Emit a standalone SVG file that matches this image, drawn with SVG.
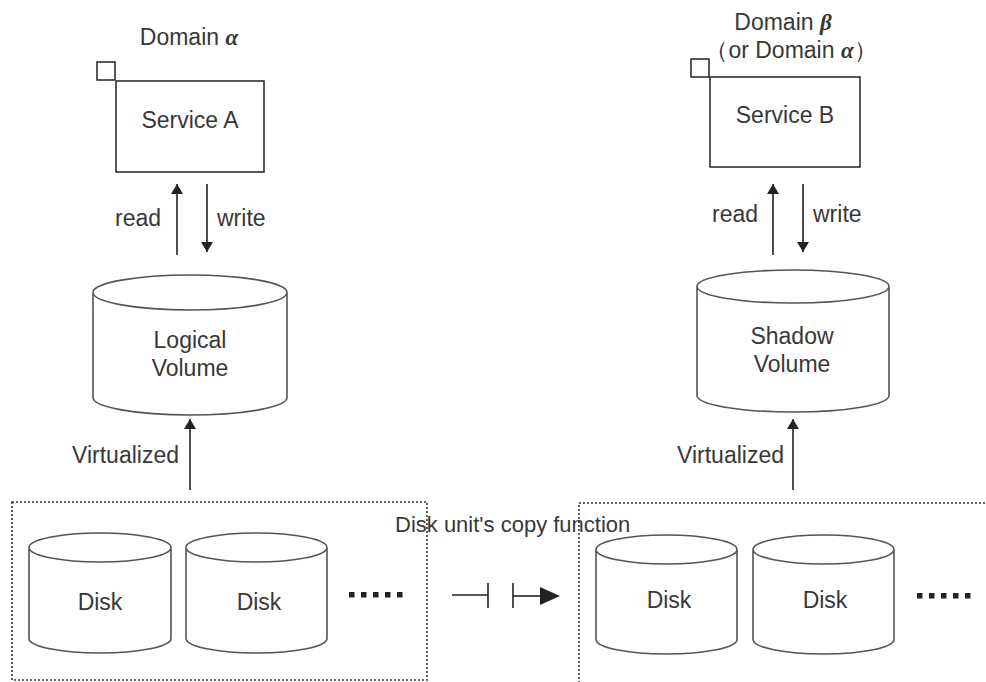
<svg xmlns="http://www.w3.org/2000/svg" width="986" height="682" viewBox="0 0 986 682">
<style>
text{font-family:"Liberation Sans",Arial,sans-serif;font-size:23px;fill:#383838}
.c{text-anchor:middle}
.box{fill:#fff;stroke:#222;stroke-width:1.5}
.cyl{fill:#fff;stroke:#555;stroke-width:1.6}
.ln{stroke:#222;stroke-width:1.6;fill:none}
.dot{fill:none;stroke:#333;stroke-width:1.6;stroke-dasharray:2 2}
.g{font-family:"Liberation Serif","DejaVu Serif",serif;font-style:italic;font-weight:bold}
</style>
<defs>
<marker id="ah" viewBox="0 0 10 12" refX="10" refY="6" markerWidth="10" markerHeight="12" markerUnits="userSpaceOnUse" orient="auto">
<path d="M0,0 L10,6 L0,12 z" fill="#222"/>
</marker>
</defs>

<g id="domainA">
<text class="c" x="189" y="45">Domain <tspan class="g">α</tspan></text>
</g>
<g id="serviceA">
<rect class="box" x="97" y="62" width="18" height="18"/>
<rect class="box" x="116" y="81" width="148" height="91"/>
<text class="c" x="190" y="128">Service A</text>
</g>

<g id="domainB">
<text class="c" x="783" y="30">Domain <tspan class="g">β</tspan></text>
<text class="c" x="791" y="58">（or Domain <tspan class="g">α</tspan>）</text>
</g>
<g id="serviceB">
<rect class="box" x="691" y="59" width="18" height="18"/>
<rect class="box" x="710" y="77" width="150" height="90"/>
<text class="c" x="785" y="123">Service B</text>
</g>

<g id="logicalVolume">
<path class="cyl" d="M93,292.5 A97,17.5 0 0 1 287,292.5 A97,17.5 0 0 1 93,292.5 M93,292.5 V397.5 A97,17.5 0 0 0 287,397.5 V292.5"/>
<text class="c" x="190" y="348">Logical</text>
<text class="c" x="190" y="376">Volume</text>
</g>

<g id="shadowVolume">
<path class="cyl" d="M697,286.5 A96,16.5 0 0 1 889,286.5 A96,16.5 0 0 1 697,286.5 M697,286.5 V395.5 A96,16.5 0 0 0 889,395.5 V286.5"/>
<text class="c" x="792" y="344">Shadow</text>
<text class="c" x="792" y="372">Volume</text>
</g>

<g id="diskGroupLeft">
<rect class="dot" x="12" y="502" width="415" height="178"/>
<g id="diskL1">
<path class="cyl" d="M29,547.5 A71,14.5 0 0 1 171,547.5 A71,14.5 0 0 1 29,547.5 M29,547.5 V638.5 A71,14.5 0 0 0 171,638.5 V547.5"/>
<text class="c" x="100" y="610">Disk</text>
</g>
<g id="diskL2">
<path class="cyl" d="M186,547.5 A70.5,14.5 0 0 1 327,547.5 A70.5,14.5 0 0 1 186,547.5 M186,547.5 V638.5 A70.5,14.5 0 0 0 327,638.5 V547.5"/>
<text class="c" x="259" y="610">Disk</text>
</g>
<g fill="#222">
<rect x="349" y="592" width="5.5" height="5.5"/><rect x="361" y="592" width="5.5" height="5.5"/><rect x="373" y="592" width="5.5" height="5.5"/><rect x="385" y="592" width="5.5" height="5.5"/><rect x="397" y="592" width="5.5" height="5.5"/>
</g>
</g>

<g id="diskGroupRight">
<rect class="dot" x="579" y="503" width="420" height="200"/>
<g id="diskR1">
<path class="cyl" d="M596,549.5 A70.5,14.5 0 0 1 737,549.5 A70.5,14.5 0 0 1 596,549.5 M596,549.5 V639.5 A70.5,14.5 0 0 0 737,639.5 V549.5"/>
<text class="c" x="669" y="608">Disk</text>
</g>
<g id="diskR2">
<path class="cyl" d="M753,549.5 A70.5,14.5 0 0 1 894,549.5 A70.5,14.5 0 0 1 753,549.5 M753,549.5 V639.5 A70.5,14.5 0 0 0 894,639.5 V549.5"/>
<text class="c" x="825" y="608">Disk</text>
</g>
<g fill="#222">
<rect x="917" y="593" width="5.5" height="5.5"/><rect x="929" y="593" width="5.5" height="5.5"/><rect x="941" y="593" width="5.5" height="5.5"/><rect x="953" y="593" width="5.5" height="5.5"/><rect x="965" y="593" width="5.5" height="5.5"/>
</g>
</g>

<g id="connectors">
<line class="ln" x1="177" y1="255" x2="177" y2="184" marker-end="url(#ah)"/>
<line class="ln" x1="207" y1="184" x2="207" y2="252" marker-end="url(#ah)"/>
<line class="ln" x1="773" y1="255" x2="773" y2="184" marker-end="url(#ah)"/>
<line class="ln" x1="803" y1="184" x2="803" y2="252" marker-end="url(#ah)"/>
<line class="ln" x1="190" y1="490" x2="190" y2="419" marker-end="url(#ah)"/>
<line class="ln" x1="793" y1="490" x2="793" y2="419" marker-end="url(#ah)"/>
<line class="ln" x1="452" y1="595" x2="488" y2="595" stroke-width="2.2"/>
<line class="ln" x1="488" y1="583" x2="488" y2="608" stroke-width="2.2"/>
<line class="ln" x1="513" y1="583" x2="513" y2="608" stroke-width="3.5"/>
<line class="ln" x1="513" y1="596" x2="542" y2="596" stroke-width="2.2"/>
<path d="M540,587 L560,596 L540,605 z" fill="#222"/>
</g>

<g id="labels">
<text x="115" y="226">read</text>
<text x="217" y="226">write</text>
<text x="712" y="222">read</text>
<text x="813" y="222">write</text>
<text x="72" y="463">Virtualized</text>
<text x="677" y="463">Virtualized</text>
<text x="395" y="532" style="font-size:22px">Disk unit's copy function</text>
</g>
</svg>
